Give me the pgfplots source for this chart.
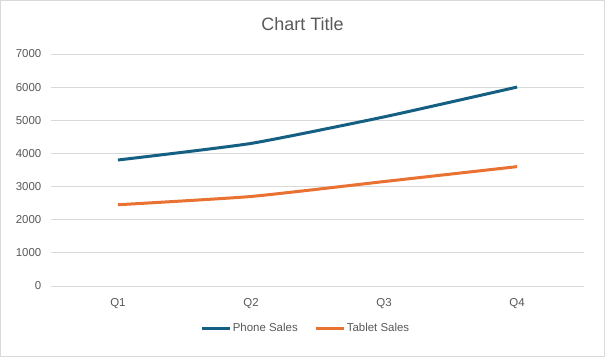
\documentclass[border=0pt]{standalone}
\usepackage{pgfplots}
\pgfplotsset{compat=1.18}
\usepackage{fontspec}
\setmainfont{Liberation Sans}
\definecolor{phone}{HTML}{156082}
\definecolor{tablet}{HTML}{E97132}
\definecolor{txt}{HTML}{595959}
\definecolor{gridc}{HTML}{D9D9D9}
\begin{document}
\begin{tikzpicture}[x=1bp,y=1bp]
\draw[gridc, line width=0.75bp, fill=white] (0.5,0.5) rectangle (604.5,356.5);
\node[text=txt, font=\fontsize{18}{20}\selectfont, anchor=base] at (302.5,326) {Chart Title};
\begin{axis}[
  at={(51.5bp,71bp)}, anchor=south west,
  scale only axis, width=532bp, height=232bp,
  xmin=-0.5, xmax=3.5, ymin=0, ymax=7000,
  xtick={0,1,2,3}, xticklabels={Q1,Q2,Q3,Q4},
  ytick={0,1000,...,7000},
  axis line style={draw=none},
  major tick length=0pt,
  xmajorgrids=false, ymajorgrids=true, grid style={draw=gridc, line width=0.75bp},
  tick label style={text=txt, font=\fontsize{11.5}{13}\selectfont},
  /pgf/number format/assume math mode=true,
  /pgf/number format/1000 sep={},
  yticklabel style={anchor=east, xshift=-6.5bp},
  xticklabel style={anchor=base, yshift=-20.5bp},
  legend style={at={(0.5,-0.181)}, anchor=center, xshift=-12bp, draw=none, fill=none,
    font=\fontsize{11.5}{13}\selectfont, text=txt, legend columns=2,
    /tikz/every odd column/.append style={column sep=0bp},
    /tikz/every even column/.append style={column sep=15bp},
    nodes={inner xsep=1.5bp}},
  legend image code/.code={\draw[#1, line width=3bp] (0bp,0bp) -- (28bp,0bp);},
]
\addplot[phone, line width=3bp, smooth, tension=0.3] coordinates {(0,3800) (1,4300) (2,5100) (3,6000)};
\addlegendentry{Phone Sales}
\addplot[tablet, line width=3bp, smooth, tension=0.3] coordinates {(0,2450) (1,2700) (2,3150) (3,3600)};
\addlegendentry{Tablet Sales}
\end{axis}
\end{tikzpicture}
\end{document}
